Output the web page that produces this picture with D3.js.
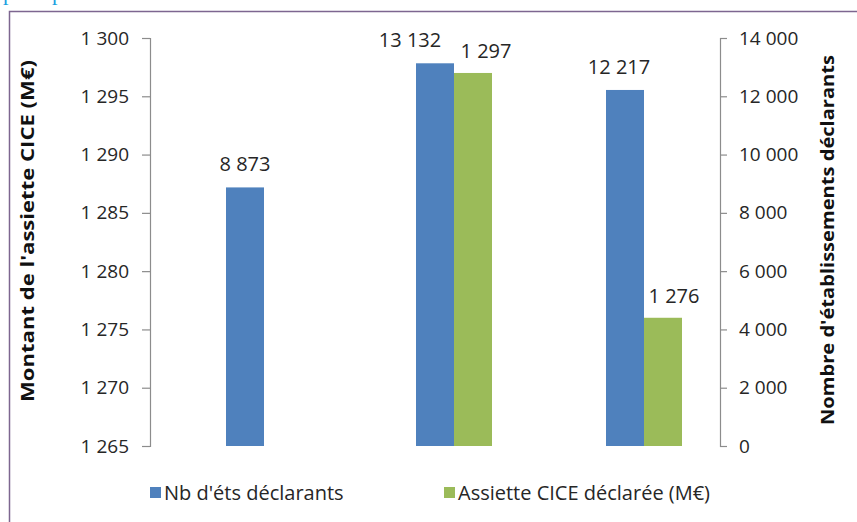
<!DOCTYPE html>
<html>
<head>
<meta charset="utf-8">
<script src="https://cdn.jsdelivr.net/npm/d3@7"></script>
<style>
  html, body { margin: 0; padding: 0; background: #fff; }
  svg { display: block; }
  text { font-family: "Open Sans", Lato, sans-serif; }
</style>
</head>
<body>
<svg id="chart" width="857" height="522"></svg>
<script>
// Three reporting groups; the first one has no declared base
const categories = ["A", "B", "C"];
const nbEtablissements = [8873, 13132, 12217];      // right axis
const assietteCICE = [null, 1297, 1276];            // left axis, M€
const leftTicks = [1265, 1270, 1275, 1280, 1285, 1290, 1295, 1300];
const rightTicks = [0, 2000, 4000, 6000, 8000, 10000, 12000, 14000];
const seriesNames = ["Nb d'éts déclarants", "Assiette CICE déclarée (M€)"];
const leftTitle = "Montant de l'assiette CICE (M€)";
const rightTitle = "Nombre d'établissements déclarants";

const BLUE = "#4f81bd", GREEN = "#9bbb59", AXIS = "#8c8c8c", TXT = "#262626";

const svg = d3.select("#chart");
const plot = { left: 150, right: 720, top: 38, bottom: 446 };

// thousands separated by a space
const fmt = v => d3.format(",")(v).replace(/,/g, " ");

// document fragments above the frame
svg.append("text").attr("x", 3).attr("y", 0).attr("fill", "#1aa0e0")
  .style("font-family", "'Liberation Serif', serif").style("font-size", "22px").text("p");
svg.append("text").attr("x", 52).attr("y", 0).attr("fill", "#1aa0e0")
  .style("font-family", "'Liberation Serif', serif").style("font-size", "22px").text("p");

// frame
svg.append("path").attr("d", "M9.5,522 V11.5 H857").attr("fill", "none")
  .attr("stroke", "#7d6690").attr("stroke-width", 1.5);

const x = d3.scaleBand().domain(categories).range([plot.left, plot.right]);
const yL = d3.scaleLinear().domain([1265, 1300]).range([plot.bottom, plot.top]);
const yR = d3.scaleLinear().domain([0, 14000]).range([plot.bottom, plot.top]);
const barW = x.bandwidth() * 0.2;

// axes
const axL = svg.append("g").attr("transform", `translate(${plot.left},0)`)
  .call(d3.axisLeft(yL).tickValues(leftTicks).tickSize(8).tickPadding(13).tickFormat(fmt));
const axR = svg.append("g").attr("transform", `translate(${plot.right},0)`)
  .call(d3.axisRight(yR).tickValues(rightTicks).tickSize(7).tickPadding(12).tickFormat(fmt));
[axL, axR].forEach(ax => {
  ax.select(".domain").attr("stroke", AXIS).attr("stroke-width", 1.2);
  ax.selectAll(".tick line").attr("stroke", AXIS).attr("stroke-width", 1.2);
  ax.selectAll(".tick text").attr("fill", TXT).style("font-size", "19px")
    .style("font-family", "'Open Sans', sans-serif");
});

// bars
const g = svg.append("g");
categories.forEach((c, i) => {
  const cx = x(c) + x.bandwidth() / 2;
  g.append("rect").attr("x", cx - barW / 2).attr("width", barW)
    .attr("y", yR(nbEtablissements[i])).attr("height", plot.bottom - yR(nbEtablissements[i]))
    .attr("fill", BLUE);
  if (assietteCICE[i] != null) {
    g.append("rect").attr("x", cx + barW / 2).attr("width", barW)
      .attr("y", yL(assietteCICE[i])).attr("height", plot.bottom - yL(assietteCICE[i]))
      .attr("fill", GREEN);
  }
});

// value labels, nudged sideways where two labels sit side by side
const blueNudge = [0, -25, -6];
const greenNudge = [0, 13, 11];
categories.forEach((c, i) => {
  const cx = x(c) + x.bandwidth() / 2;
  g.append("text").attr("x", cx + blueNudge[i]).attr("y", yR(nbEtablissements[i]) - 16)
    .attr("text-anchor", "middle").attr("fill", TXT).style("font-size", "20px")
    .text(fmt(nbEtablissements[i]));
  if (assietteCICE[i] != null) {
    g.append("text").attr("x", cx + barW + greenNudge[i]).attr("y", yL(assietteCICE[i]) - 15)
      .attr("text-anchor", "middle").attr("fill", TXT).style("font-size", "20px")
      .text(fmt(assietteCICE[i]));
  }
});

// axis titles
svg.append("text").attr("transform", "translate(34,231) rotate(-90)")
  .attr("text-anchor", "middle").attr("fill", "#111")
  .style("font-size", "17px").style("font-weight", "bold")
  .attr("textLength", 342).attr("lengthAdjust", "spacingAndGlyphs").text(leftTitle);
svg.append("text").attr("transform", "translate(834,240) rotate(-90)")
  .attr("text-anchor", "middle").attr("fill", "#111")
  .style("font-size", "17px").style("font-weight", "bold")
  .attr("textLength", 370).attr("lengthAdjust", "spacingAndGlyphs").text(rightTitle);

// legend
const legend = [
  { name: seriesNames[0], color: BLUE, x: 150 },
  { name: seriesNames[1], color: GREEN, x: 444 }
];
legend.forEach(d => {
  svg.append("rect").attr("x", d.x).attr("y", 487).attr("width", 11).attr("height", 11).attr("fill", d.color);
  svg.append("text").attr("x", d.x + 14).attr("y", 500).attr("fill", TXT)
    .style("font-size", "20px").text(d.name);
});
</script>
</body>
</html>
